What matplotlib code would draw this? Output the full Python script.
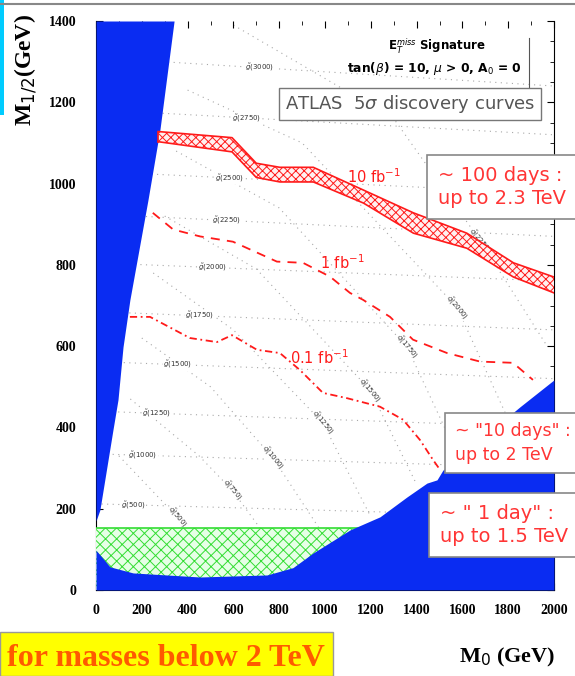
import numpy as np
import matplotlib.pyplot as plt
from matplotlib.patches import Rectangle

plt.rcParams['hatch.linewidth'] = 0.7

# theoretically excluded regions (blue)
wedge_m12 = [1400, 1132, 960, 714, 598, 468, 394, 197, 170]
wedge_m0 = [341, 279, 227, 148, 118, 96, 74, 17, 0]

floor_m0 = [0, 61, 162, 454, 747, 860, 948, 1110, 1240, 1358, 1445, 1489, 1515, 1533, 1700, 1852, 2000]
floor_m12 = [98, 57, 42, 32, 37, 55, 91, 148, 180, 229, 263, 271, 295, 303, 380, 451, 517]

# experimentally excluded (green)
green_m0 = [0, 1150]
green_top = 153

# 10 fb-1 band
band_m0 = [272, 594, 700, 803, 949, 1168, 1386, 1619, 1823, 2000]
band_hi = [1128, 1113, 1050, 1040, 1040, 984, 928, 878, 805, 770]
band_lo = [1103, 1078, 1015, 1004, 1004, 952, 878, 841, 770, 731]

# 1 fb-1
fb1_m0 = [248, 337, 454, 598, 790, 904, 1022, 1109, 1166, 1284, 1384, 1533, 1677, 1821, 1908]
fb1_m12 = [928, 887, 870, 857, 808, 805, 771, 731, 714, 672, 616, 583, 562, 559, 517]

# 0.1 fb-1
fb01_m0 = [148, 236, 410, 528, 594, 703, 803, 891, 991, 1096, 1240, 1341, 1415, 1472, 1502]
fb01_m12 = [672, 672, 620, 610, 627, 591, 583, 541, 485, 472, 451, 419, 369, 320, 296]

# gluino mass contours (grey, nearly flat)
gl_masses = [3000, 2750, 2500, 2250, 2000, 1750, 1500, 1250, 1000, 500]
gl_left = [1310, 1182, 1030, 925, 805, 685, 562, 440, 335, 212]
gl_right = [1240, 1120, 975, 870, 760, 640, 520, 400, 300, 180]
gl_label_m0 = [716, 659, 585, 572, 511, 454, 358, 266, 205, 162]

# squark mass contours (grey, diagonal)
sq_masses = [500, 750, 1000, 1250, 1500, 1750, 2000, 2250]
sq_m0 = [[100, 354, 560], [150, 450, 594, 850], [200, 500, 773, 1000],
         [250, 600, 991, 1200], [300, 700, 1197, 1400], [350, 800, 1358, 1580],
         [400, 900, 1576, 1800], [600, 1300, 1677, 1970]]
sq_m12 = [[330, 180, 50], [470, 330, 246, 50], [620, 500, 325, 130],
          [780, 640, 411, 180], [920, 790, 492, 260], [1080, 940, 598, 330],
          [1230, 1100, 696, 420], [1390, 1160, 860, 600]]
sq_label_idx = [1, 2, 2, 2, 2, 2, 2, 2]

blue = '#0a2cf2'
red = '#ff1a1a'
boxred = '#ff3535'

fig = plt.figure(figsize=(5.75, 6.76), dpi=100)
ax = fig.add_axes([96/575, 86/676, 458/575, 569/676])

# grey contours
for m, yl, yr, xl in zip(gl_masses, gl_left, gl_right, gl_label_m0):
    ax.plot([0, 2000], [yl, yr], color='#a8a8a8', lw=0.8, ls=(0, (1, 4)), zorder=1)
    yy = np.interp(xl, [0, 2000], [yl, yr])
    ax.text(xl, yy, r'$\tilde{g}$(%d)' % m, fontsize=5, color='#333333',
            ha='center', va='center', zorder=2,
            bbox=dict(fc='white', ec='none', pad=0.3))
for m, xs, ys, k in zip(sq_masses, sq_m0, sq_m12, sq_label_idx):
    ax.plot(xs, ys, color='#a8a8a8', lw=0.8, ls=(0, (1, 4)), zorder=1)
    ax.text(xs[k], ys[k], r'$\tilde{q}$(%d)' % m, fontsize=5, color='#333333',
            ha='center', va='center', rotation=-50, zorder=2,
            bbox=dict(fc='white', ec='none', pad=0.3))

# green region
ax.fill_between(green_m0, 0, green_top, facecolor='#e6ffe6', edgecolor='#33dd33',
                hatch='xxx', lw=0, zorder=3)
ax.plot(green_m0, [green_top, green_top], color='#33dd33', lw=1.2, zorder=3)

# blue regions
ax.fill_betweenx(wedge_m12, 0, wedge_m0, color=blue, lw=0, zorder=4)
ax.fill_between(floor_m0, 0, floor_m12, color=blue, lw=0, zorder=4)

# red curves
ax.fill_between(band_m0, band_lo, band_hi, facecolor='#fff0f0', edgecolor=red,
                hatch='xxxx', lw=0, zorder=5)
ax.plot(band_m0, band_hi, color=red, lw=1.2, zorder=5)
ax.plot(band_m0, band_lo, color=red, lw=1.2, zorder=5)
ax.plot([band_m0[0]] * 2, [band_lo[0], band_hi[0]], color=red, lw=1.2, zorder=5)
ax.plot(fb1_m0, fb1_m12, color=red, lw=1.3, ls=(0, (5, 4)), zorder=5)
ax.plot(fb01_m0, fb01_m12, color=red, lw=1.3, ls=(0, (4, 2, 1, 2)), zorder=5)

ax.text(1096, 1017, r'10 fb$^{-1}$', color=red, fontsize=10.5, ha='left', va='center', zorder=6)
ax.text(978, 805, r'1 fb$^{-1}$', color=red, fontsize=10.5, ha='left', va='center', zorder=6)
ax.text(847, 571, r'0.1 fb$^{-1}$', color=red, fontsize=10.5, ha='left', va='center', zorder=6)

ax.set_xlim(0, 2000)
ax.set_ylim(0, 1400)
ax.set_xticks(np.arange(0, 2001, 200))
ax.set_yticks(np.arange(0, 1401, 200))
ax.set_xticks(np.arange(0, 2001, 100), minor=True)
ax.set_yticks(np.arange(0, 1401, 50), minor=True)
ax.tick_params(which='both', direction='in', top=True, right=True)
ax.tick_params(which='major', length=5, labelsize=10)
ax.tick_params(axis='x', which='major', pad=10)
ax.tick_params(axis='y', which='major', pad=14)
ax.tick_params(which='minor', length=3)
for lab in ax.get_xticklabels() + ax.get_yticklabels():
    lab.set_fontfamily('Liberation Serif')
    lab.set_fontweight('bold')
ax.spines['top'].set_visible(False)
for s in ax.spines.values():
    s.set_linewidth(0.8)

# inner text
ax.text(0.745, 0.955, r'E$_T^{miss}$ Signature', transform=ax.transAxes, fontsize=8.5,
        fontweight='bold', ha='center', va='center', zorder=6)
ax.text(0.74, 0.917, r'tan($\beta$) = 10, $\mu$ > 0, A$_0$ = 0', transform=ax.transAxes,
        fontsize=8.8, fontweight='bold', ha='center', va='center', zorder=6)
ax.plot([0.946, 0.946], [0.88, 0.97], transform=ax.transAxes, color='#555555', lw=0.8, zorder=6)

fig.text(410/575, 1 - 104/676, r'ATLAS  5$\sigma$ discovery curves', fontsize=13,
         color='#555555', ha='center', va='center',
         bbox=dict(boxstyle='square,pad=0.3', fc='white', ec='#777777', lw=1))

box_kw = dict(boxstyle='square,pad=0.55', fc='white', ec='#888888', lw=1.2)
fig.text(438/575, 1 - 187/676, '~ 100 days :\nup to 2.3 TeV', fontsize=14, color=boxred,
         ha='left', va='center', linespacing=1.25, bbox=box_kw, zorder=7)
fig.text(455/575, 1 - 443/676, '~ "10 days" :\nup to 2 TeV', fontsize=12.5, color=boxred,
         ha='left', va='center', linespacing=1.4, bbox=box_kw, zorder=7)
fig.text(440/575, 1 - 525/676, '~ " 1 day" :\nup to 1.5 TeV', fontsize=14, color=boxred,
         ha='left', va='center', linespacing=1.25, bbox=box_kw, zorder=7)

# axis titles
fig.text(26/575, 1 - 70/676, r'M$_{1/2}$(GeV)', rotation=90, fontsize=17,
         family='Liberation Serif', fontweight='bold', ha='center', va='center')
fig.text(507/575, 1 - 657/676, r'M$_0$ (GeV)', fontsize=16,
         family='Liberation Serif', fontweight='bold', ha='center', va='center')

# slide decorations
fig.patches.append(Rectangle((0, 0), 333/575, 44/676, transform=fig.transFigure,
                             fc='#ffff00', ec='#999999', lw=1))
fig.text(7/575, 1 - 658/676, 'for masses below 2 TeV', fontsize=23, color='#ff5a00',
         family='Liberation Serif', fontweight='bold', ha='left', va='center')
fig.patches.append(Rectangle((0, 1 - 115/676), 4/575, 115/676, transform=fig.transFigure,
                             fc='#00ccff', ec='none'))
fig.lines.append(plt.Line2D([0, 1], [1 - 4/676] * 2, transform=fig.transFigure,
                            color='#888888', lw=1.5))

fig.savefig('out.png', dpi=100)
